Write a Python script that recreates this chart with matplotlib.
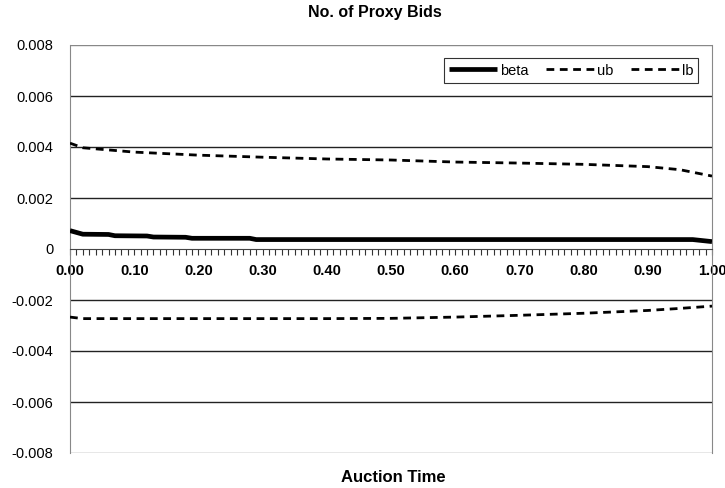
import matplotlib
matplotlib.use("Agg")
import matplotlib.pyplot as plt
import numpy as np

plt.rcParams['font.family'] = ['Liberation Sans', 'DejaVu Sans']

# Data
t_beta = [0.00, 0.02, 0.06, 0.07, 0.12, 0.13, 0.18, 0.19, 0.28, 0.29, 0.97, 1.00]
beta = [0.00072, 0.00058, 0.00057, 0.00052, 0.00051, 0.00047, 0.00046, 0.00042, 0.00042, 0.00037, 0.00037, 0.00029]

t_ub = [0.00, 0.02, 0.10, 0.20, 0.30, 0.40, 0.50, 0.60, 0.70, 0.80, 0.90, 0.95, 1.00]
ub = [0.00415, 0.00397, 0.00380, 0.00368, 0.00360, 0.00353, 0.00349, 0.00341, 0.00337, 0.00332, 0.00323, 0.00311, 0.00286]

t_lb = [0.00, 0.02, 0.10, 0.20, 0.30, 0.40, 0.50, 0.60, 0.70, 0.80, 0.90, 0.95, 1.00]
lb = [-0.00267, -0.00273, -0.00273, -0.00273, -0.00273, -0.00273, -0.00272, -0.00267, -0.00260, -0.00252, -0.00241, -0.00233, -0.00224]

xticks = np.round(np.arange(0, 1.0001, 0.1), 2)
xtick_labels = [f"{v:.2f}" for v in xticks]
yticks = np.round(np.arange(-0.008, 0.0081, 0.002), 3)
ytick_labels = ["-0.008", "-0.006", "-0.004", "-0.002", "0", "0.002", "0.004", "0.006", "0.008"]

fig = plt.figure(figsize=(7.25, 4.88), dpi=100)
ax = fig.add_axes([70/725, 35/488, 642/725, 408/488])

ax.set_xlim(0, 1)
ax.set_ylim(-0.008, 0.008)

for y in yticks:
    if abs(y) < 1e-9:
        continue
    c = '#888888' if abs(abs(y) - 0.008) < 1e-9 else '#222222'
    ax.axhline(y, color=c, lw=1.0, zorder=1)

ax.plot(t_beta, beta, color='black', lw=3.4, solid_capstyle='butt', label='beta', zorder=3)
ax.plot(t_ub, ub, color='black', lw=2.0, dashes=(2.8, 2.0), label='ub', zorder=3)
ax.plot(t_lb, lb, color='black', lw=2.0, dashes=(2.8, 2.0), label='lb', zorder=3)

ax.spines['top'].set_visible(False)
ax.spines['left'].set_color('#888888')
ax.spines['right'].set_color('#888888')
ax.spines['bottom'].set_position(('data', 0))
ax.spines['bottom'].set_color('#444444')

ax.set_yticks(yticks)
ax.set_yticklabels(ytick_labels, fontsize=10.5)
ax.tick_params(axis='y', length=0, pad=12)

ax.set_xticks(xticks)
ax.set_xticklabels(xtick_labels, fontsize=10.5, fontweight='bold')
ax.set_xticks(np.round(np.arange(0, 1.0001, 0.01), 2), minor=True)
ax.tick_params(axis='x', which='both', direction='out', length=4, width=0.8, color='#333333', pad=7)

fig.text(375/725, 1 - 13/488, "No. of Proxy Bids", ha='center', va='center', fontsize=11.5, fontweight='bold')
fig.text(393/725, 1 - 477/488, "Auction Time", ha='center', va='center', fontsize=12, fontweight='bold')

leg = ax.legend(loc='upper right', ncol=3, fontsize=10.5, frameon=True, fancybox=False,
                edgecolor='black', handlelength=3.3, handletextpad=0.2, columnspacing=1.2,
                borderpad=0.35, bbox_to_anchor=(0.99, 0.985))
leg.get_frame().set_linewidth(0.8)

fig.savefig("out.png", dpi=100)
